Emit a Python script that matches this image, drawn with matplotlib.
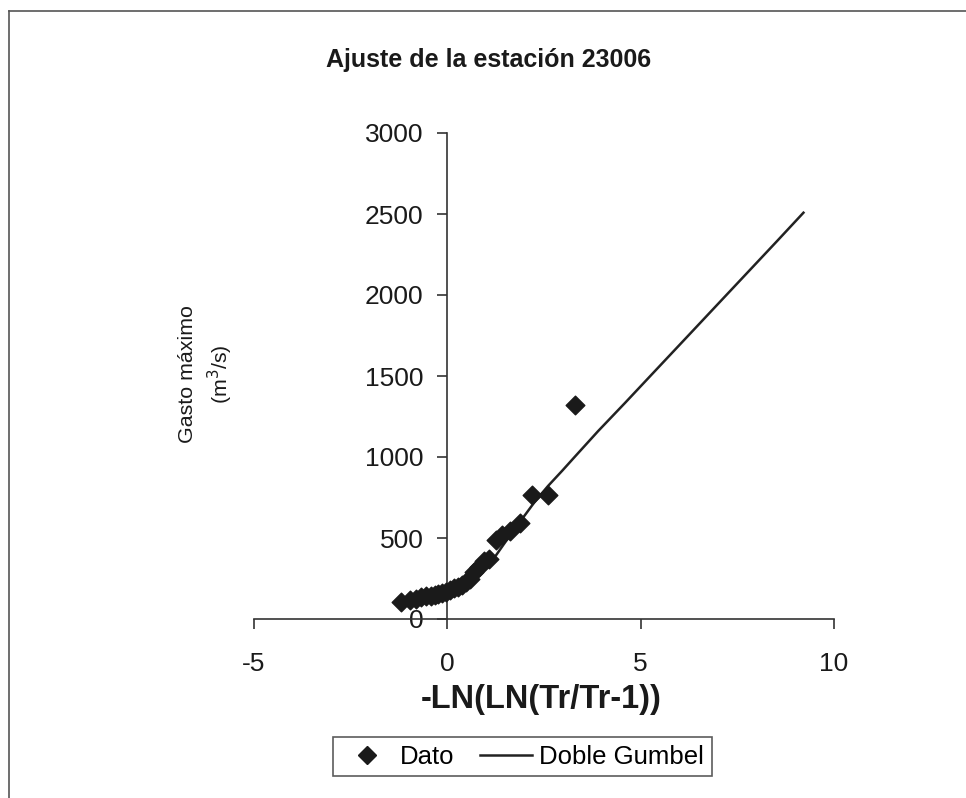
import matplotlib.pyplot as plt
from matplotlib.lines import Line2D

plt.rcParams['font.family'] = ['Liberation Sans', 'DejaVu Sans']
plt.rcParams['axes.unicode_minus'] = False

# observed points (reduced variate, flow)
dato_x = [3.31, 2.60, 2.18, 1.87, 1.63, 1.42, 1.25, 1.09, 0.95, 0.82,
          0.70, 0.58, 0.47, 0.37, 0.27, 0.17, 0.07, -0.03, -0.13, -0.23,
          -0.33, -0.43, -0.54, -0.67, -0.80, -0.97, -1.20]
dato_y = [1320, 765, 765, 590, 545, 520, 490, 370, 355, 320,
          290, 250, 230, 210, 200, 190, 180, 165, 160, 155,
          150, 145, 140, 135, 125, 120, 105]

# fitted double Gumbel curve
gumbel_x = [-1.20, -0.97, -0.67, -0.43, -0.23, -0.03, 0.17, 0.37, 0.58, 0.82,
            1.09, 1.25, 1.50, 1.87, 2.25, 2.60, 2.97, 3.31, 3.90, 4.60,
            5.30, 6.21, 6.91, 8.52, 9.21]
gumbel_y = [100, 115, 130, 140, 150, 165, 185, 210, 250, 300,
            350, 390, 475, 597, 720, 820, 915, 1005, 1160, 1335,
            1513, 1744, 1922, 2331, 2508]

x_ticks = [-5, 0, 5, 10]
y_ticks = [0, 500, 1000, 1500, 2000, 2500, 3000]

fig = plt.figure(figsize=(9.66, 7.98), dpi=100)
ax = fig.add_axes([254 / 966, 1 - 619 / 798, 580 / 966, 486 / 798])

ax.plot(gumbel_x, gumbel_y, color='#222222', lw=1.8, label='Doble Gumbel', zorder=2)
ax.scatter(dato_x, dato_y, marker='D', s=90, color='#1a1a1a', label='Dato', zorder=3)

ax.set_xlim(-5, 10)
ax.set_ylim(0, 3000)
ax.set_xticks(x_ticks)
ax.set_yticks(y_ticks)

for s in ['top', 'right']:
    ax.spines[s].set_visible(False)
ax.spines['left'].set_position(('data', 0))
for s in ['left', 'bottom']:
    ax.spines[s].set_color('#333333')
    ax.spines[s].set_linewidth(1.2)
ax.tick_params(axis='both', direction='out', length=7, width=1.2, color='#333333',
               labelsize=19, labelcolor='#1a1a1a')
ax.tick_params(axis='x', pad=17)
ax.tick_params(axis='y', pad=10)
ax.patch.set_visible(False)

fig.text(0.506, 0.925, 'Ajuste de la estación 23006', ha='center', va='center',
         fontsize=18, fontweight='bold', color='#1a1a1a')
fig.text(0.560, 0.123, '-LN(LN(Tr/Tr-1))', ha='center', va='center',
         fontsize=23.5, fontweight='bold', color='#1a1a1a')
fig.text(0.214, 0.531, 'Gasto máximo\n(m$^3$/s)', ha='center', va='center',
         rotation=90, fontsize=15.4, color='#1a1a1a', linespacing=1.4)

handles = [Line2D([], [], marker='D', ls='none', color='#1a1a1a', markersize=9),
           Line2D([], [], color='#222222', lw=1.8)]
leg = fig.legend(handles, ['Dato', 'Doble Gumbel'], loc='center',
                 bbox_to_anchor=(0.541, 0.052), ncol=2, fontsize=18.5,
                 frameon=True, fancybox=False, handlelength=2.0,
                 columnspacing=1.0, handletextpad=0.3, borderpad=0.3,
                 borderaxespad=0)
leg.get_frame().set_edgecolor('#333333')
leg.get_frame().set_linewidth(1.2)

# chart area border (top and left visible in the scan)
fig.add_artist(Line2D([9 / 966, 1], [1 - 11 / 798] * 2, color='#555555', lw=1.2))
fig.add_artist(Line2D([9 / 966] * 2, [0, 1 - 11 / 798], color='#555555', lw=1.2))

fig.savefig('out.png', dpi=100)
